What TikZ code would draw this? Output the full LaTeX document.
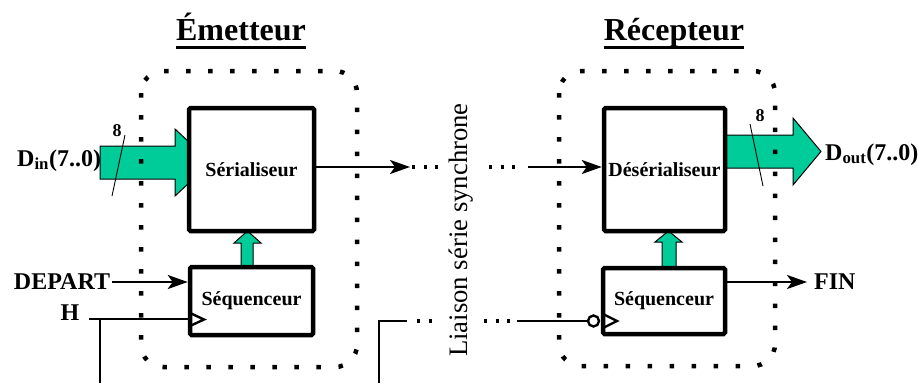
\documentclass[tikz,border=0pt]{standalone}
\usepackage{fontspec}
\setmainfont{Liberation Serif}
\usetikzlibrary{arrows.meta}
\definecolor{busgreen}{RGB}{0,204,153}

\begin{document}
\begin{tikzpicture}[x=1pt,y=-1pt,
  blk/.style={draw, line width=4.5pt, fill=white, rounded corners=1.5pt, inner sep=0pt,
              font=\fontsize{20}{24}\selectfont\bfseries},
  sig/.style={line width=2.4pt},
  sigarrow/.style={sig, -{Stealth[length=20pt,width=14pt,inset=5pt]}},
  bus/.style={fill=busgreen, draw=black, line width=1pt, line join=miter},
  dotframe/.style={line width=4.5pt, dash pattern=on 4.5pt off 17.5pt, rounded corners=22pt},
  lab/.style={inner sep=0pt, font=\fontsize{24}{28}\selectfont\bfseries},
  title/.style={inner sep=0pt, font=\fontsize{32}{38}\selectfont\bfseries},
  buswidth/.style={inner sep=0pt, font=\fontsize{18}{21}\selectfont\bfseries},
  linkdots/.style={line width=3.2pt, dash pattern=on 3.2pt off 8.3pt},
  clocktri/.style={sig, line join=miter}
]
\useasboundingbox (0,0) rectangle (918,383);

% ---- titles ----
\node[title, anchor=base] (emt) at (241,40) {Émetteur};
\draw[line width=3pt] ([yshift=-7pt]emt.base west) -- ([yshift=-7pt]emt.base east);
\node[title, anchor=base] (rec) at (674,40) {Récepteur};
\draw[line width=3pt] ([yshift=-7pt]rec.base west) -- ([yshift=-7pt]rec.base east);

% ---- data buses (green) ----
\path[bus] (100,146) -- (175,146) -- (175,129) -- (211,162.5) -- (175,196)
           -- (175,179) -- (100,179) -- cycle;
\path[bus] (723,135) -- (793,135) -- (793,118) -- (821,151.5) -- (793,185)
           -- (793,168) -- (723,168) -- cycle;
\path[bus] (241,268) -- (241,243) -- (234,243) -- (247.5,231) -- (261,243)
           -- (253,243) -- (253,268) -- cycle;
\path[bus] (662,268) -- (662,242) -- (655,242) -- (668.5,231) -- (682,242)
           -- (676,242) -- (676,268) -- cycle;

% ---- blocks ----
\node[blk, minimum width=125, minimum height=123] (ser)  at (251.5,169.5) {Sérialiseur};
\node[blk, minimum width=121, minimum height=123] (des)  at (664.5,169.5) {Désérialiseur};
\node[blk, minimum width=123, minimum height=68]  (seqT) at (251.5,301)   {Séquenceur};
\node[blk, minimum width=122, minimum height=66]  (seqR) at (664,301)     {Séquenceur};

% ---- bus labels ----
\node[lab, anchor=base west] (din)  at (17,166)  {D\textsubscript{in}(7..0)};
\node[lab, anchor=base west] (dout) at (825,160) {D\textsubscript{out}(7..0)};
\draw[line width=0.9pt] (125,135) -- (112,196);
\node[buswidth] (w1) at (117,130.5) {8};
\draw[line width=0.9pt] (750,124) -- (763,186);
\node[buswidth] (w2) at (760,116) {8};

% ---- serial data link ----
\coordinate (tx) at (410,167);
\coordinate (rx) at (528,167);
\draw[sigarrow] ([yshift=2.5pt]ser.east) -- (tx);
\draw[linkdots] (412,167) -- (440,167);
\draw[linkdots] (489,167) -- (517,167);
\draw[sigarrow] (rx) -- (rx -| des.west);

% ---- clock link ----
\coordinate (ckbot) at (379,383);
\coordinate (ckcorner) at (379,321);
\coordinate (ckend) at (407,321);
\draw[sig] (ckbot) -- (ckcorner) -- (ckend);
\draw[linkdots] (417,321) -- (434,321);
\draw[linkdots] (484,321) -- (512,321);
\node[circle, draw, sig, minimum size=11pt, inner sep=0pt] (inv) at (593.5,321) {};
\coordinate (ckstart) at (517,321);
\draw[sig] (ckstart) -- (inv.west);
\draw[clocktri] (603,314) -- (617,321) -- (603,328);

% ---- transmitter control ----
\node[lab] (dep) at (62,282) {DEPART};
\draw[sigarrow] ([xshift=2pt]dep.east) -- (dep.east -| seqT.west);
\node[lab] (h) at (70,313) {H};
\coordinate (hs) at (89,319);
\coordinate (hbot) at (100,383);
\draw[sig] (hs) -- (hs -| seqT.west);
\draw[sig] (hs -| hbot) -- (hbot);
\draw[clocktri] (190,313) -- (204,319.5) -- (190,326);

% ---- receiver control ----
\node[lab, anchor=west] (fin) at (814,282) {FIN};
\draw[sigarrow] (seqR.east |- fin.west) -- ([xshift=-7pt]fin.west);

% ---- link caption ----
\node[rotate=90, inner sep=0pt, font=\fontsize{26.7}{32}\selectfont] (link) at (461,230)
  {Liaison série synchrone};

% ---- dotted frames ----
\draw[dotframe] (141,71) rectangle (357,367);
\draw[dotframe] (559,71) rectangle (775,366);
\end{tikzpicture}
\end{document}
